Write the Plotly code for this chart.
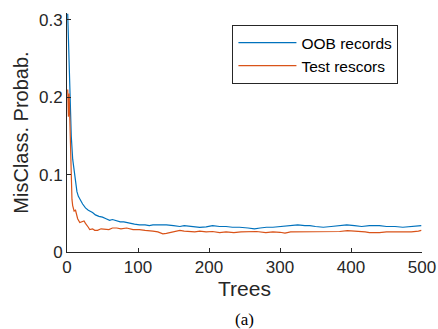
import plotly.graph_objects as go

oob_trees = [1, 2, 3, 4, 5, 6, 8, 10, 12, 14, 16, 18, 22, 26, 30, 36, 40, 45, 50, 55, 60, 64, 70, 75,
             80, 84, 90, 95, 102, 110, 116, 121, 130, 140, 150, 159, 165, 173, 180, 187, 196, 205,
             215, 224, 233, 243, 255, 264, 272, 281, 290, 304, 315, 325, 335, 342, 350, 361, 372,
             384, 394, 405, 415, 426, 440, 450, 462, 473, 485, 492, 499]
oob_err = [0.308, 0.27, 0.235, 0.20, 0.175, 0.15, 0.12, 0.103, 0.09, 0.078, 0.072, 0.068, 0.062,
           0.057, 0.054, 0.051, 0.048, 0.046, 0.045, 0.043, 0.041, 0.042, 0.040, 0.039, 0.039,
           0.038, 0.037, 0.036, 0.035, 0.035, 0.034, 0.035, 0.035, 0.035, 0.034, 0.033, 0.034,
           0.033, 0.033, 0.0318, 0.0325, 0.034, 0.033, 0.033, 0.032, 0.032, 0.031, 0.030, 0.031,
           0.032, 0.032, 0.033, 0.034, 0.035, 0.034, 0.034, 0.033, 0.032, 0.033, 0.034, 0.035,
           0.034, 0.033, 0.034, 0.034, 0.033, 0.033, 0.032, 0.033, 0.034, 0.034]

test_trees = [1, 2, 3, 4, 5, 6, 7, 8, 10, 12, 13, 15, 18, 21, 24, 26, 28, 30, 32, 36, 39, 43, 48,
              54, 59, 64, 70, 76, 84, 93, 102, 110, 116, 121, 128, 135, 140, 145, 149, 155, 159,
              165, 173, 180, 187, 196, 205, 215, 224, 235, 245, 255, 267, 280, 290, 300, 307, 315,
              330, 345, 360, 372, 384, 395, 410, 420, 426, 440, 450, 460, 473, 485, 495, 499]
test_err = [0.21, 0.175, 0.205, 0.16, 0.12, 0.09, 0.068, 0.06, 0.053, 0.054, 0.05, 0.043, 0.038,
            0.039, 0.040, 0.037, 0.035, 0.032, 0.029, 0.030, 0.028, 0.028, 0.030, 0.029, 0.029,
            0.031, 0.031, 0.030, 0.031, 0.029, 0.029, 0.028, 0.027, 0.027, 0.026, 0.0235, 0.024,
            0.025, 0.026, 0.027, 0.028, 0.027, 0.026, 0.026, 0.027, 0.026, 0.0265, 0.025, 0.026,
            0.025, 0.026, 0.026, 0.0265, 0.025, 0.026, 0.0255, 0.0245, 0.026, 0.026, 0.026, 0.026,
            0.026, 0.0265, 0.0277, 0.027, 0.026, 0.025, 0.025, 0.026, 0.026, 0.026, 0.026, 0.027,
            0.028]

series_names = ["OOB records", "Test rescors"]
x_ticks = [0, 100, 200, 300, 400, 500]
y_ticks = [0, 0.1, 0.2, 0.3]
y_tick_text = ["0", "0.1", "0.2", "0.3"]

axis_col = "#262626"
fig = go.Figure()
fig.add_trace(go.Scatter(x=oob_trees, y=oob_err, mode="lines", name=series_names[0],
                         line=dict(color="#0072BD", width=1.2)))
fig.add_trace(go.Scatter(x=test_trees, y=test_err, mode="lines", name=series_names[1],
                         line=dict(color="#D95319", width=1.2)))

fig.update_layout(
    width=438, height=329,
    margin=dict(l=67, r=16, t=13, b=76.5),
    paper_bgcolor="white", plot_bgcolor="white",
    font=dict(family="Liberation Sans, Arial, sans-serif", color=axis_col),
    showlegend=True,
    legend=dict(x=0.466, y=0.95, xanchor="left", yanchor="top",
                bordercolor=axis_col, borderwidth=1, bgcolor="white",
                font=dict(size=15.5, color="black"), itemwidth=58,
                tracegroupgap=0),
    xaxis=dict(range=[0, 500], tickvals=x_ticks, ticks="inside", ticklen=4,
               tickcolor=axis_col, showline=True, linecolor=axis_col, linewidth=1,
               showgrid=False, zeroline=False, tickfont=dict(size=17), automargin=False,
               title=dict(text="Trees", font=dict(size=21), standoff=4)),
    yaxis=dict(range=[0, 0.309], tickvals=y_ticks, ticktext=y_tick_text, ticks="inside",
               ticklen=4, tickcolor=axis_col, showline=True, linecolor=axis_col, linewidth=1,
               showgrid=False, zeroline=False, tickfont=dict(size=17), automargin=False,
               title=dict(text="MisClass. Probab.", font=dict(size=20), standoff=4)),
    annotations=[dict(text="(a)", xref="paper", yref="paper", x=0.5, y=-0.283,
                      xanchor="center", yanchor="middle", showarrow=False,
                      font=dict(family="Liberation Serif", size=17, color="black"))],
)

fig.write_html("out.html")
